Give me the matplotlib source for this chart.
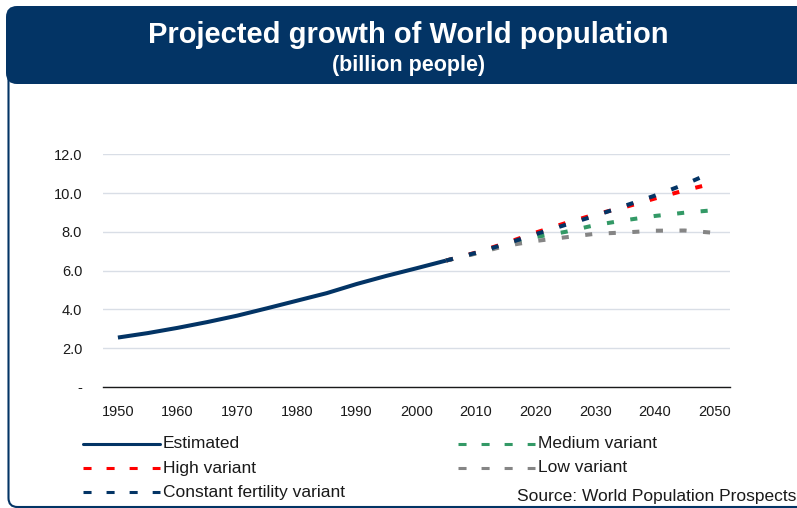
import matplotlib
matplotlib.use("Agg")
import matplotlib.pyplot as plt
from matplotlib.patches import FancyBboxPatch
from matplotlib.lines import Line2D
from matplotlib.transforms import IdentityTransform

plt.rcParams['font.family'] = ['Liberation Sans', 'DejaVu Sans']
plt.rcParams['lines.scale_dashes'] = False

# ---- data (billion people) ----
years = [1950, 1955, 1960, 1965, 1970, 1975, 1980, 1985, 1990, 1995, 2000,
         2005, 2010, 2015, 2020, 2025, 2030, 2035, 2040, 2045, 2050]
tick_years = [1950, 1960, 1970, 1980, 1990, 2000, 2010, 2020, 2030, 2040, 2050]

est_years = [1950, 1955, 1960, 1965, 1970, 1975, 1980, 1985, 1990, 1995, 2000, 2005]
estimated = [2.55, 2.78, 3.05, 3.35, 3.68, 4.06, 4.45, 4.84, 5.31, 5.73, 6.12, 6.52]

proj_years = [2005, 2010, 2015, 2020, 2025, 2030, 2035, 2040, 2045, 2050]
medium = [6.52, 6.90, 7.33, 7.73, 8.00, 8.35, 8.60, 8.82, 8.99, 9.12]
high = [6.52, 6.93, 7.42, 7.96, 8.45, 8.90, 9.28, 9.72, 10.14, 10.52]
low = [6.52, 6.88, 7.28, 7.53, 7.72, 7.90, 7.97, 8.06, 8.07, 7.95]
constant = [6.52, 6.92, 7.38, 7.88, 8.36, 8.83, 9.35, 9.87, 10.45, 11.12]

y_ticks = [0, 2, 4, 6, 8, 10, 12]
y_tick_labels = ['-', '2.0', '4.0', '6.0', '8.0', '10.0', '12.0']

NAVY = '#033465'
RED = '#FF0000'
GREEN = '#339966'
GRAY = '#858585'
TEXT = '#1a1a1a'

W, H = 797, 508
fig = plt.figure(figsize=(W / 100, H / 100), dpi=100)
fig.patch.set_facecolor('white')


def fx(px):
    return px / W


def fy(py):
    return 1 - py / H


# frame and title banner (pixel coordinates)
border = FancyBboxPatch((8.5, H - 507), 900, 440,
                        boxstyle="round,pad=0,rounding_size=9",
                        transform=IdentityTransform(), fill=False,
                        edgecolor=NAVY, linewidth=1.5, zorder=0)
fig.add_artist(border)
banner = FancyBboxPatch((6, H - 84), 900, 78,
                        boxstyle="round,pad=0,rounding_size=11",
                        transform=IdentityTransform(), facecolor=NAVY,
                        edgecolor='none', zorder=1)
fig.add_artist(banner)

fig.text(fx(408), fy(35), 'Projected growth of World population', color='white',
         fontsize=21, fontweight='bold', ha='center', va='center', zorder=2)
fig.text(fx(409), fy(66), '(billion people)', color='white',
         fontsize=15.5, fontweight='bold', ha='center', va='center', zorder=2)

# ---- chart ----
ax = fig.add_axes([fx(103), fy(387), fx(729.5) - fx(103), (387 - 154.3) / H])
ax.set_facecolor('none')

xi = {y: i for i, y in enumerate(years)}
est_x = [xi[y] for y in est_years]
proj_x = [xi[y] for y in proj_years]

LW = 2.9
DASH = (5.1, 11.9)

ax.plot(est_x, estimated, color=NAVY, lw=LW, solid_capstyle='butt',
        solid_joinstyle='round', zorder=3)
ax.plot(proj_x, medium, color=GREEN, lw=LW, dashes=DASH, dash_capstyle='butt', zorder=3)
ax.plot(proj_x, high, color=RED, lw=LW, dashes=DASH, dash_capstyle='butt', zorder=3)
ax.plot(proj_x, low, color=GRAY, lw=LW, dashes=DASH, dash_capstyle='butt', zorder=3)
ax.plot(proj_x, constant, color=NAVY, lw=LW, dashes=DASH, dash_capstyle='butt', zorder=3)

ax.set_xlim(-0.5, len(years) - 0.5)
ax.set_ylim(0, 12)
ax.set_xticks([xi[y] for y in tick_years])
ax.set_xticklabels([str(y) for y in tick_years])
ax.set_yticks(y_ticks)
ax.set_yticklabels(y_tick_labels)
ax.tick_params(axis='both', length=0, labelsize=10.5, labelcolor=TEXT)
ax.tick_params(axis='x', pad=13)
ax.tick_params(axis='y', pad=15)

for s in ['top', 'right', 'left']:
    ax.spines[s].set_visible(False)
ax.spines['bottom'].set_color(TEXT)
ax.spines['bottom'].set_linewidth(1.0)
ax.spines['bottom'].set_zorder(4)
ax.yaxis.grid(True, color='#D9DEE6', linewidth=1.0)
ax.set_axisbelow(True)

# ---- legend ----
LEG_FS = 12.5
legend_items = [
    ('Estimated', NAVY, None, 83, 160, 163, 444),
    ('High variant', RED, DASH, 83, 160, 163, 468),
    ('Constant fertility variant', NAVY, DASH, 83, 160, 163, 492),
    ('Medium variant', GREEN, DASH, 458, 535, 538, 444),
    ('Low variant', GRAY, DASH, 458, 535, 538, 468),
]
for label, color, dash, x0, x1, tx, ty in legend_items:
    kw = dict(color=color, lw=2.2, transform=fig.transFigure)
    if dash is None:
        kw['solid_capstyle'] = 'round'
    else:
        kw['dashes'] = (5.8, 10.8)
        kw['dash_capstyle'] = 'butt'
    fig.add_artist(Line2D([fx(x0), fx(x1)], [fy(ty), fy(ty)], **kw))
    fig.text(fx(tx), fy(ty), label, fontsize=LEG_FS, color=TEXT,
             ha='left', va='center')

fig.text(fx(796), fy(497), 'Source: World Population Prospects', fontsize=LEG_FS,
         color=TEXT, ha='right', va='center')

fig.savefig('out.png', dpi=100)
